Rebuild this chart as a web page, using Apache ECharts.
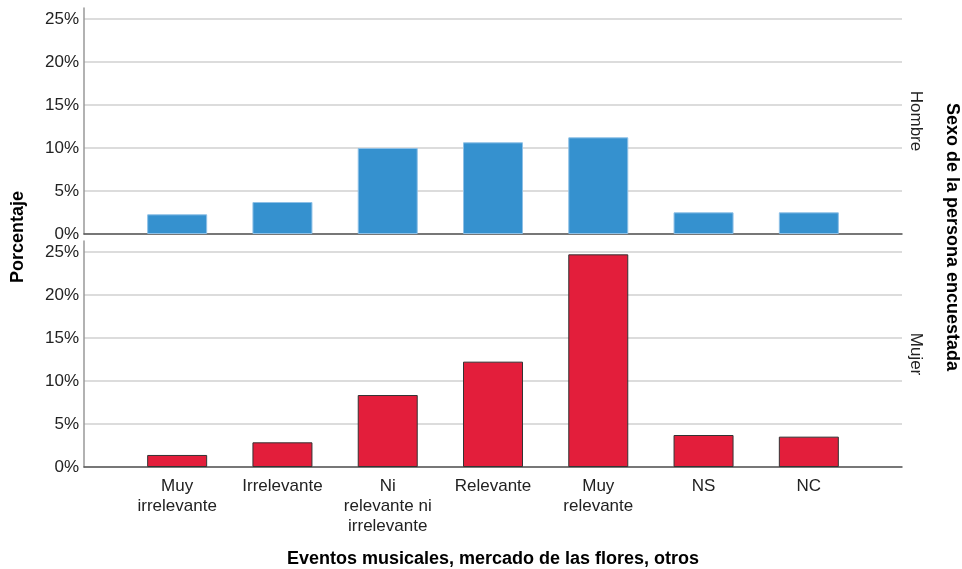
<!DOCTYPE html>
<html>
<head>
<meta charset="utf-8">
<script src="https://cdn.jsdelivr.net/npm/echarts@6/dist/echarts.min.js"></script>
<style>
html,body{margin:0;padding:0;background:#fff;}
#chart{width:962px;height:569px;}
</style>
</head>
<body>
<div id="chart"></div>
<script>
// ---- data ----
const categories = ['Muy\nirrelevante', 'Irrelevante', 'Ni\nrelevante ni\nirrelevante', 'Relevante', 'Muy\nrelevante', 'NS', 'NC'];
const hombreValues = [2.29, 3.72, 10.0, 10.66, 11.24, 2.52, 2.52];
const mujerValues = [1.40, 2.87, 8.37, 12.25, 24.73, 3.72, 3.53];
const yTicks = [0, 5, 10, 15, 20, 25];
const panelNames = ['Hombre', 'Mujer'];
const xTitle = 'Eventos musicales, mercado de las flores, otros';
const yTitle = 'Porcentaje';
const facetTitle = 'Sexo de la persona encuestada';

const FONT = "'Liberation Sans', Arial, sans-serif";
const catIdx = categories.map((c, i) => i);

function xAxisCfg(gridIndex, withLabels) {
  return {
    type: 'value', gridIndex: gridIndex, min: -0.885, max: 6.885,
    splitLine: { show: false },
    axisLine: { show: true, onZero: false, lineStyle: { color: '#555', width: 1.5 } },
    axisTick: { show: false },
    axisLabel: withLabels ? {
      show: true, customValues: catIdx, margin: 9,
      color: '#222', fontSize: 17, fontFamily: FONT, lineHeight: 20,
      formatter: v => categories[Math.round(v)] || ''
    } : { show: false },
    name: withLabels ? xTitle : '',
    nameLocation: 'middle', nameGap: 83,
    nameTextStyle: { color: '#000', fontSize: 18, fontWeight: 'bold', fontFamily: FONT }
  };
}
function yAxisCfg(gridIndex) {
  return {
    type: 'value', gridIndex: gridIndex, min: 0, max: 26.28, interval: 5,
    axisLine: { show: true, onZero: false, lineStyle: { color: '#999', width: 1.5 } },
    axisTick: { show: false },
    axisLabel: {
      color: '#222', fontSize: 17, fontFamily: FONT, margin: 5,
      showMaxLabel: false,
      formatter: v => (yTicks.indexOf(v) >= 0 ? v + '%' : '')
    },
    splitLine: { show: true, showMaxLine: false, lineStyle: { color: '#d0d0d0', width: 1.5 } }
  };
}

const chart = echarts.init(document.getElementById('chart'), null, { renderer: 'canvas' });
chart.setOption({
  backgroundColor: '#fff',
  animation: false,
  grid: [
    { left: 84, right: 60, top: 8, height: 226 },
    { left: 84, right: 60, top: 241, height: 226 }
  ],
  xAxis: [xAxisCfg(0, false), xAxisCfg(1, true)],
  yAxis: [yAxisCfg(0), yAxisCfg(1)],
  series: [
    {
      type: 'bar', xAxisIndex: 0, yAxisIndex: 0, barWidth: 60,
      data: hombreValues.map((v, i) => [i, v]),
      itemStyle: { color: '#3591cf', borderColor: '#8ec0e6', borderWidth: 1 }
    },
    {
      type: 'bar', xAxisIndex: 1, yAxisIndex: 1, barWidth: 60,
      data: mujerValues.map((v, i) => [i, v]),
      itemStyle: { color: '#e31e3b', borderColor: '#333', borderWidth: 1 }
    }
  ],
  graphic: [
    { type: 'text', x: 18, y: 237, rotation: Math.PI / 2,
      style: { text: yTitle, fill: '#000', font: 'bold 18px ' + FONT, align: 'center', verticalAlign: 'middle' } },
    { type: 'text', x: 916, y: 121, rotation: -Math.PI / 2,
      style: { text: panelNames[0], fill: '#222', font: '17px ' + FONT, align: 'center', verticalAlign: 'middle' } },
    { type: 'text', x: 916, y: 354, rotation: -Math.PI / 2,
      style: { text: panelNames[1], fill: '#222', font: '17px ' + FONT, align: 'center', verticalAlign: 'middle' } },
    { type: 'text', x: 952, y: 237, rotation: -Math.PI / 2,
      style: { text: facetTitle, fill: '#000', font: 'bold 18px ' + FONT, align: 'center', verticalAlign: 'middle' } }
  ]
});
</script>
</body>
</html>
